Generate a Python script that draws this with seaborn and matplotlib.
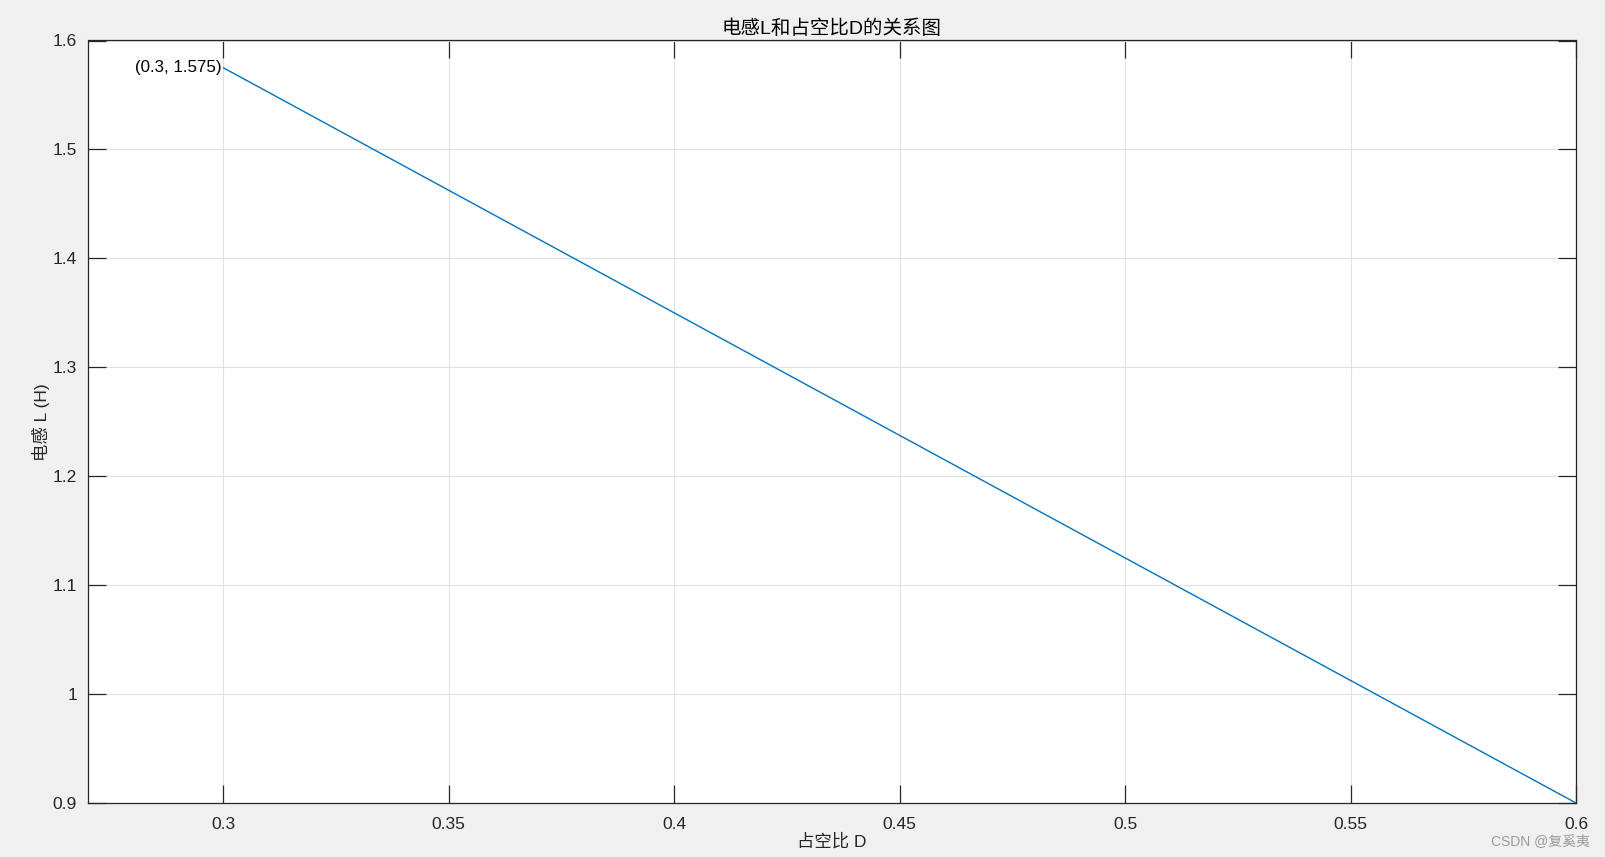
import matplotlib
matplotlib.use("Agg")
import matplotlib.pyplot as plt
import seaborn as sns
import pandas as pd

# Data
duty_D = [0.3, 0.35, 0.4, 0.45, 0.5, 0.55, 0.6]
induct_L = [1.575, 1.4625, 1.35, 1.2375, 1.125, 1.0125, 0.9]
x_ticks = [0.3, 0.35, 0.4, 0.45, 0.5, 0.55, 0.6]
x_ticklabels = ["0.3", "0.35", "0.4", "0.45", "0.5", "0.55", "0.6"]
y_ticks = [0.9, 1.0, 1.1, 1.2, 1.3, 1.4, 1.5, 1.6]
y_ticklabels = ["0.9", "1", "1.1", "1.2", "1.3", "1.4", "1.5", "1.6"]
title_text = "电感L和占空比D的关系图"
xlabel_text = "占空比 D"
ylabel_text = "电感 L (H)"
annot_text = "(0.3, 1.575)"
watermark = "CSDN @复奚夷"

sns.set_style("white")
fam = ["Liberation Sans", "Noto Sans CJK SC", "DejaVu Sans"]
plt.rcParams["font.family"] = fam

df = pd.DataFrame({"D": duty_D, "L": induct_L})

fig = plt.figure(figsize=(16.06, 8.57), dpi=100, facecolor="#f0f0f0")
ax = fig.add_axes([88 / 1606, 1 - 803 / 857, (1576 - 88) / 1606, (803 - 40.5) / 857])
ax.set_facecolor("white")

sns.lineplot(data=df, x="D", y="L", ax=ax, color="#0072BD", linewidth=1.0)

ax.set_xlim(0.27, 0.6)
ax.set_ylim(0.9, 1.6)
ax.set_xticks(x_ticks)
ax.set_xticklabels(x_ticklabels)
ax.set_yticks(y_ticks)
ax.set_yticklabels(y_ticklabels)

ax.grid(True, color="#e0e0e0", linewidth=0.8)
ax.tick_params(direction="in", length=13, width=0.9, colors="#262626",
               labelsize=12.5, top=True, right=True, bottom=True, left=True, pad=8)
ax.tick_params(axis="x", pad=10)
for s in ax.spines.values():
    s.set_visible(True)
    s.set_color("#262626")
    s.set_linewidth(0.9)

ax.set_title(title_text, fontsize=14, color="black", pad=5)
ax.set_xlabel(xlabel_text, fontsize=12.5, color="#262626", labelpad=1)
ax.set_ylabel(ylabel_text, fontsize=12.5, color="#262626", labelpad=1.5)

ax.annotate(annot_text, xy=(duty_D[0], induct_L[0]), xytext=(-1, 0),
            textcoords="offset points", ha="right", va="center",
            fontsize=12.2, color="black")

fig.text(1590 / 1606, 1 - 841 / 857, watermark, ha="right", va="center",
         fontsize=10, color="#9a9a9a")

fig.savefig("out.png", dpi=100, facecolor=fig.get_facecolor())
